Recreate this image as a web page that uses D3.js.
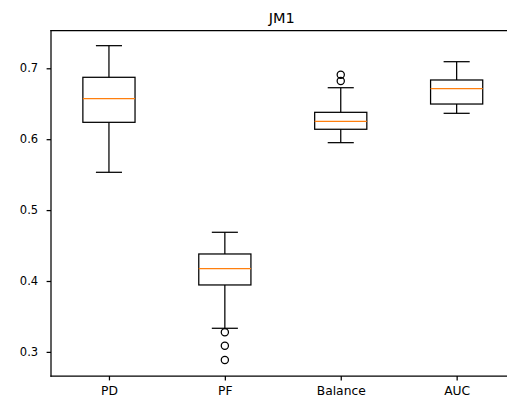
<!DOCTYPE html>
<html>
<head>
<meta charset="utf-8">
<script src="https://cdn.jsdelivr.net/npm/d3@7/dist/d3.min.js"></script>
<style>
  html, body { margin: 0; padding: 0; background: #fff; }
  svg { display: block; }
  text { font-family: "DejaVu Sans", sans-serif; fill: #000; }
</style>
</head>
<body>
<svg id="chart" width="507" height="399"></svg>
<script>
// ---- data ----
const title = "JM1";
const categories = ["PD", "PF", "Balance", "AUC"];
const whiskerLow  = [0.5533, 0.3333, 0.5951, 0.6365];
const q1          = [0.6238, 0.3944, 0.6140, 0.6496];
const median      = [0.6571, 0.4174, 0.6252, 0.6712];
const q3          = [0.6873, 0.4381, 0.6379, 0.6835];
const whiskerHigh = [0.7319, 0.4687, 0.6726, 0.7093];
const outliers    = [[], [0.3276, 0.3088, 0.2886], [0.6821, 0.6910], []];
const yTicks = [0.3, 0.4, 0.5, 0.6, 0.7];

// ---- layout ----
const svg = d3.select("#chart");
const mLeft = 51, mRight = 514.6, mTop = 30.5, mBottom = 376;
const x = d3.scaleLinear().domain([0.5, categories.length + 0.5]).range([mLeft, mRight]);
const y = d3.scaleLinear().domain([0.266, 0.7533]).range([mBottom, mTop]);
const boxW = 0.45;          // in data units
const capW = boxW / 2;
const lw = 1.25;

const g = svg.append("g");

categories.forEach((c, i) => {
  const pos = i + 1;
  const cx = x(pos);
  const bx0 = x(pos - boxW / 2), bx1 = x(pos + boxW / 2);
  const cx0 = x(pos - capW / 2), cx1 = x(pos + capW / 2);
  const grp = g.append("g");
  grp.append("line").attr("x1", cx).attr("x2", cx)
    .attr("y1", y(q1[i])).attr("y2", y(whiskerLow[i]))
    .attr("stroke", "#000").attr("stroke-width", lw);
  grp.append("line").attr("x1", cx).attr("x2", cx)
    .attr("y1", y(q3[i])).attr("y2", y(whiskerHigh[i]))
    .attr("stroke", "#000").attr("stroke-width", lw);
  [whiskerLow[i], whiskerHigh[i]].forEach(v => {
    grp.append("line").attr("x1", cx0).attr("x2", cx1)
      .attr("y1", y(v)).attr("y2", y(v))
      .attr("stroke", "#000").attr("stroke-width", lw);
  });
  grp.append("rect").attr("x", bx0).attr("y", y(q3[i]))
    .attr("width", bx1 - bx0).attr("height", y(q1[i]) - y(q3[i]))
    .attr("fill", "none").attr("stroke", "#000").attr("stroke-width", lw);
  grp.append("line").attr("x1", bx0).attr("x2", bx1)
    .attr("y1", y(median[i])).attr("y2", y(median[i]))
    .attr("stroke", "#ff7f0e").attr("stroke-width", lw);
  outliers[i].forEach(v => {
    grp.append("circle").attr("cx", cx).attr("cy", y(v)).attr("r", 3.6)
      .attr("fill", "none").attr("stroke", "#000").attr("stroke-width", lw);
  });
});

// spines: left, top, bottom (right one lies beyond the canvas)
const spines = [
  [mLeft, mTop, mLeft, mBottom],
  [mLeft, mTop, mRight, mTop],
  [mLeft, mBottom, mRight, mBottom]
];
svg.selectAll("line.spine").data(spines).join("line").attr("class", "spine")
  .attr("x1", d => d[0]).attr("y1", d => d[1]).attr("x2", d => d[2]).attr("y2", d => d[3])
  .attr("stroke", "#000").attr("stroke-width", lw).attr("stroke-linecap", "square");

// y axis
const yAxis = d3.axisLeft(y).tickValues(yTicks).tickFormat(d3.format(".1f"))
  .tickSize(4.4).tickPadding(8.5);
const ya = svg.append("g").attr("transform", `translate(${mLeft},0)`).call(yAxis);
ya.select(".domain").remove();
ya.selectAll("line").attr("stroke", "#000").attr("stroke-width", lw);
ya.selectAll("text").attr("font-size", "11.5px").style("font-family", "DejaVu Sans, sans-serif").attr("fill", "#000");

// x axis
const xAxis = d3.axisBottom(x).tickValues(categories.map((c, i) => i + 1))
  .tickFormat((d) => categories[d - 1]).tickSize(4.4).tickPadding(5.5);
const xa = svg.append("g").attr("transform", `translate(0,${mBottom})`).call(xAxis);
xa.select(".domain").remove();
xa.selectAll("line").attr("stroke", "#000").attr("stroke-width", lw);
xa.selectAll("text").attr("font-size", "12.3px").style("font-family", "DejaVu Sans, sans-serif").attr("fill", "#000");

// title
svg.append("text").attr("x", (mLeft + mRight) / 2 - 1).attr("y", 23)
  .attr("text-anchor", "middle").attr("font-size", "14.5px").text(title);
</script>
</body>
</html>
